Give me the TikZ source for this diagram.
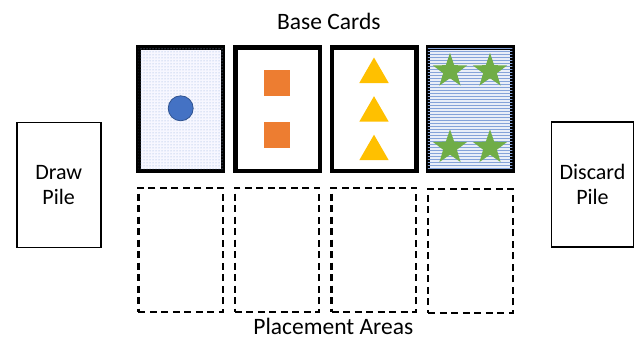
\documentclass[tikz,border=0pt]{standalone}
\usepackage{fontspec}
\setmainfont{Carlito}
\usetikzlibrary{patterns,shapes.geometric}
\definecolor{cblue}{HTML}{4472C4}
\definecolor{cblueline}{HTML}{2F528F}
\definecolor{corange}{HTML}{ED7D31}
\definecolor{cyellow}{HTML}{FFC000}
\definecolor{cgreen}{HTML}{70AD47}
\tikzset{
  basecard/.style={draw=black, line width=4.5pt, minimum width=84.5pt, minimum height=123.5pt, inner sep=0pt},
  placearea/.style={draw=black, line width=2.3pt, dash pattern=on 7pt off 4.5pt, minimum width=84.5pt, minimum height=124pt, inner sep=0pt},
  pile/.style={draw=black, line width=1.8pt, minimum width=84pt, minimum height=125pt, inner sep=0pt, align=center, font=\fontsize{22}{25}\selectfont},
  label/.style={font=\fontsize{23.5}{28}\selectfont, inner sep=0pt, anchor=base},
  sq/.style={fill=corange, minimum size=26pt, inner sep=0pt},
  tri/.style={regular polygon, regular polygon sides=3, fill=cyellow, minimum size=34pt, inner sep=0pt},
  starshape/.style={star, star points=5, star point ratio=2.5, fill=cgreen, minimum size=36pt, inner sep=0pt},
  dot/.style={circle, fill=cblue, draw=cblueline, line width=0.8pt, minimum size=25pt, inner sep=0pt}
}
\begin{document}
\begin{tikzpicture}[x=1pt,y=-1pt]
\useasboundingbox (0,0) rectangle (635,340);
% base cards
\node[basecard, fill=blue!3, postaction={pattern=dots, pattern color=cblue!60}] (b1) at (180.5,109) {};
\node[basecard, fill=white] (b2) at (277.8,109) {};
\node[basecard, fill=white] (b3) at (374,109) {};
\node[basecard, fill=cblue!12, postaction={pattern=horizontal lines, pattern color=cblue!65}] (b4) at (470,109) {};
% contents
\node[dot] (c1) at (180.7,108.3) {};
\node[sq] (s1) at (277.3,83) {};
\node[sq] (s2) at (277.3,134.5) {};
\node[tri] (t1) at (374,74.5) {};
\node[tri] (t2) at (374,113.2) {};
\node[tri] (t3) at (374,151.7) {};
\node[starshape] (st1) at (450,71) {};
\node[starshape] (st2) at (490,71) {};
\node[starshape] (st3) at (450,147.5) {};
\node[starshape] (st4) at (490,147.5) {};
% placement areas
\node[placearea] (p1) at (180.7,249.7) {};
\node[placearea] (p2) at (277,249.7) {};
\node[placearea] (p3) at (373.8,249.7) {};
\node[placearea] (p4) at (470.5,250.8) {};
% piles
\node[pile] (draw) at (58.7,185) {Draw\\Pile};
\node[pile, minimum width=82pt] (discard) at (592.5,184.5) {Discard\\Pile};
% labels
\node[label] (basecards) at (328.8,30) {Base Cards};
\node[label] (placement) at (333.3,334) {Placement Areas};
\end{tikzpicture}
\end{document}
